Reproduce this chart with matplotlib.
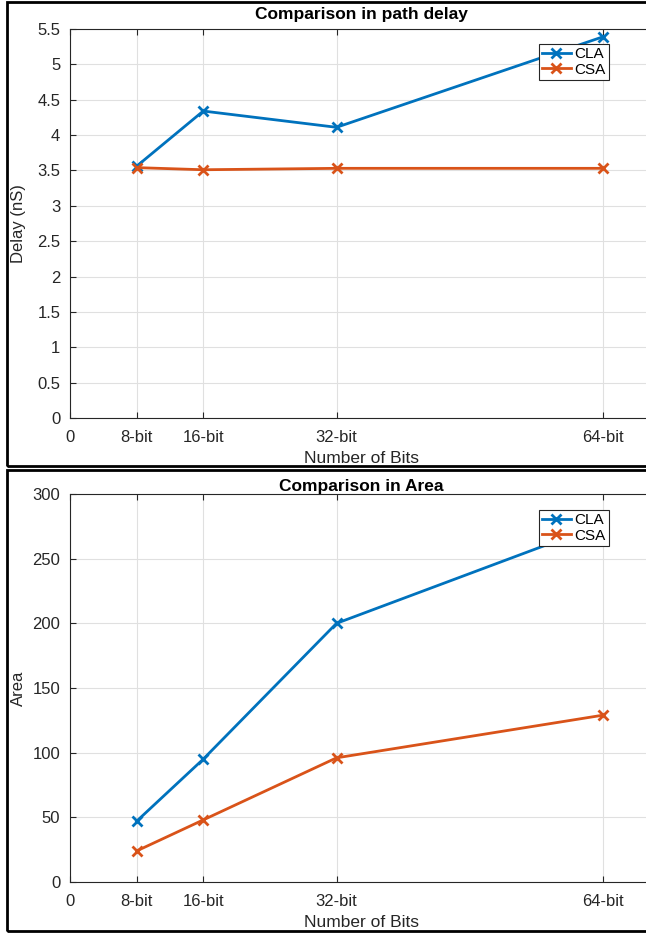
import matplotlib
matplotlib.use('Agg')
import matplotlib.pyplot as plt
from matplotlib.patches import Rectangle

# 数据
bits = [8, 16, 32, 64]
bit_labels = ['0', '8-bit', '16-bit', '32-bit', '64-bit']
delay_cla = [3.56, 4.34, 4.11, 5.39]
delay_csa = [3.54, 3.51, 3.53, 3.53]
area_cla = [47, 95, 200, 277]
area_csa = [24, 48, 96, 129]

plt.rcParams['font.family'] = ['Liberation Sans', 'DejaVu Sans']

blue = '#0072BD'
orange = '#D95319'
dark = '#262626'

W, H = 646, 933
fig = plt.figure(figsize=(W / 100, H / 100), dpi=100)


def px_axes(left, top, right, bottom):
    return [left / W, 1 - bottom / H, (right - left) / W, (bottom - top) / H]


def style(ax, ylim, yticks, ylabel, title, leg_xy, title_pad):
    ax.set_xlim(0, 70)
    ax.set_xticks([0] + bits)
    ax.set_xticklabels(bit_labels)
    ax.set_ylim(*ylim)
    ax.set_yticks(yticks)
    ax.set_yticklabels([('%g' % t) for t in yticks])
    ax.grid(True, color='#e0e0e0', linewidth=0.8)
    ax.set_axisbelow(True)
    ax.tick_params(direction='in', length=4, width=0.8, color=dark,
                   labelsize=12, labelcolor=dark, top=True, right=True)
    ax.tick_params(axis='x', pad=9)
    ax.tick_params(axis='y', pad=7)
    for s in ax.spines.values():
        s.set_color(dark)
        s.set_linewidth(0.8)
    ax.set_xlabel('Number of Bits', fontsize=12.5, color=dark, labelpad=4)
    ax.set_ylabel(ylabel, fontsize=12, color=dark)
    ax.yaxis.set_label_coords(-44 / 583, 0.5)
    ax.set_title(title, fontsize=12.5, fontweight='bold', color='black', pad=title_pad)
    leg = ax.legend(loc='upper right', bbox_to_anchor=(leg_xy[0] / W, 1 - leg_xy[1] / H),
                    bbox_transform=fig.transFigure, fontsize=11, frameon=True,
                    fancybox=False, edgecolor=dark, framealpha=1,
                    handlelength=1.9, handletextpad=0.25, borderpad=0.2,
                    labelspacing=0.1, borderaxespad=0)
    leg.get_frame().set_linewidth(0.8)


ax1 = fig.add_axes(px_axes(70, 29, 653, 418))
ax1.plot(bits, delay_cla, '-x', color=blue, lw=2, ms=7.5, mew=2, label='CLA')
ax1.plot(bits, delay_csa, '-x', color=orange, lw=2, ms=7.5, mew=2, label='CSA')
style(ax1, (0, 5.5), [0, 0.5, 1, 1.5, 2, 2.5, 3, 3.5, 4, 4.5, 5, 5.5],
      'Delay (nS)', 'Comparison in path delay', (609, 44), 7)

ax2 = fig.add_axes(px_axes(70, 494, 653, 882))
ax2.plot(bits, area_cla, '-x', color=blue, lw=2, ms=7.5, mew=2, label='CLA')
ax2.plot(bits, area_csa, '-x', color=orange, lw=2, ms=7.5, mew=2, label='CSA')
style(ax2, (0, 300), [0, 50, 100, 150, 200, 250, 300],
      'Area', 'Comparison in Area', (609, 510), 2)

# 面板外框
for top, bottom in [(2, 466), (470, 931)]:
    fig.patches.append(Rectangle((7 / W, 1 - bottom / H), 700 / W, (bottom - top) / H,
                                 transform=fig.transFigure, fill=False,
                                 edgecolor='black', linewidth=2, clip_on=False))

fig.savefig('out.png', dpi=100, facecolor='white')
